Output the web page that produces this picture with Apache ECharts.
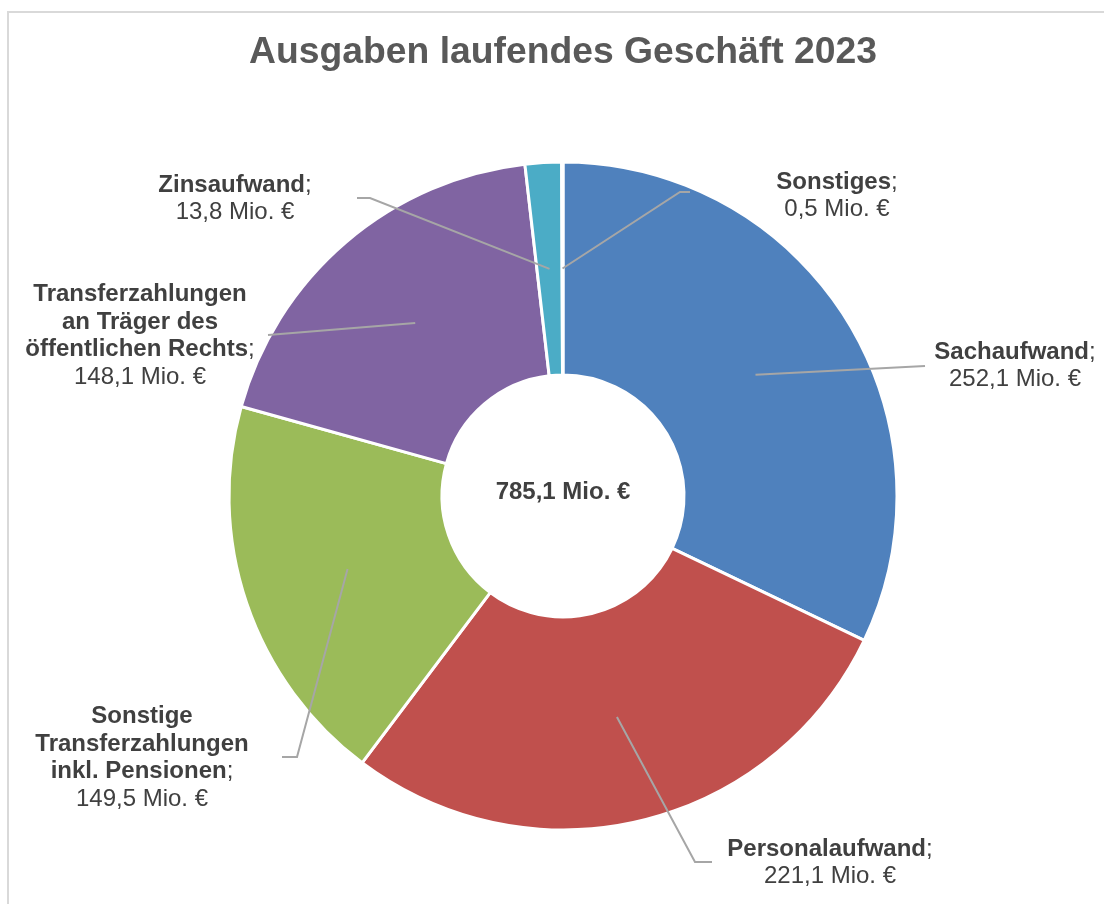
<!DOCTYPE html>
<html>
<head>
<meta charset="utf-8">
<script src="https://cdn.jsdelivr.net/npm/echarts@6/dist/echarts.min.js"></script>
<style>
  html, body { margin: 0; padding: 0; background: #ffffff; }
  #chart { width: 1104px; height: 904px; }
</style>
</head>
<body>
<div id="chart"></div>
<script>
// Ausgaben laufendes Geschäft 2023 (Mio. €)
const categories = [
  ['Sachaufwand'],
  ['Personalaufwand'],
  ['Sonstige', 'Transferzahlungen', 'inkl. Pensionen'],
  ['Transferzahlungen', 'an Träger des', 'öffentlichen Rechts'],
  ['Zinsaufwand'],
  ['Sonstiges']
];
const values = [252.1, 221.1, 149.5, 148.1, 13.8, 0.5];
const unit = 'Mio. €';
const titleText = 'Ausgaben laufendes Geschäft 2023';

const colors = ['#4F81BD', '#C0504D', '#9BBB59', '#8064A2', '#4BACC6', '#F79646'];
const FONT = 'Liberation Sans, Arial, sans-serif';
const TEXT_COLOR = '#404040';

// Ring geometry
const CX = 563, CY = 496, R_IN = 121, R_OUT = 334;
const R_MID = (R_IN + R_OUT) / 2;

// Where each label block sits and how its leader line bends
const labelSpots = [
  { x: 1015, y: 366, bend: [925, 366], end: [925, 366] },
  { x: 830,  y: 863, bend: [695, 862], end: [712, 862] },
  { x: 142,  y: 758, bend: [297, 757], end: [282, 757] },
  { x: 140,  y: 336, bend: [268, 335], end: [268, 335] },
  { x: 235,  y: 199, bend: [370, 198], end: [357, 198] },
  { x: 837,  y: 196, bend: [680, 192], end: [690, 192] }
];

const fmt = v => v.toFixed(1).replace('.', ',');
const total = values.reduce((a, b) => a + b, 0);

// Mid-angle of each slice (clockwise from 12 o'clock) -> anchor inside the ring
const anchors = [];
let acc = 0;
values.forEach(v => {
  const mid = (acc + v / 2) / total * Math.PI * 2;
  anchors.push([CX + R_MID * Math.sin(mid), CY - R_MID * Math.cos(mid)]);
  acc += v;
});

const data = values.map((v, i) => {
  const lines = categories[i];
  const nameRich = lines.map((l, k) => '{b|' + l + '}' + (k === lines.length - 1 ? '{n|;}' : '')).join('\n');
  return {
    name: lines.join(' '),
    value: v,
    itemStyle: { color: colors[i] },
    label: { formatter: nameRich + '\n{n|' + fmt(v) + ' ' + unit + '}' }
  };
});

// Leader lines run on top of the ring, from the middle of each slice to its label
const leaders = anchors.map((a, i) => ({
  type: 'polyline',
  z: 100,
  silent: true,
  shape: { points: [a, labelSpots[i].bend, labelSpots[i].end] },
  style: { fill: 'none', stroke: '#a6a6a6', lineWidth: 2 }
}));

const chart = echarts.init(document.getElementById('chart'), null, { renderer: 'canvas' });
chart.setOption({
  backgroundColor: '#ffffff',
  animation: false,
  graphic: [
    {
      type: 'rect',
      shape: { x: 8, y: 12, width: 1200, height: 1000 },
      style: { fill: 'none', stroke: '#d9d9d9', lineWidth: 2 },
      silent: true
    },
    {
      type: 'text',
      x: CX, y: 53,
      z: 100,
      style: {
        text: titleText,
        fontFamily: FONT,
        fontSize: 37.3, fontWeight: 'bold', fill: '#595959',
        align: 'center', verticalAlign: 'middle'
      }
    },
    {
      type: 'text',
      x: CX, y: 492,
      z: 100,
      style: {
        text: fmt(total) + ' ' + unit,
        fontFamily: FONT,
        fontSize: 24, fontWeight: 'bold', fill: TEXT_COLOR,
        align: 'center', verticalAlign: 'middle'
      }
    }
  ].concat(leaders),
  series: [{
    type: 'pie',
    center: [CX, CY],
    radius: [R_IN, R_OUT],
    startAngle: 90,
    clockwise: true,
    avoidLabelOverlap: false,
    itemStyle: { borderColor: '#ffffff', borderWidth: 3 },
    label: {
      show: true,
      position: 'outside',
      color: TEXT_COLOR,
      fontFamily: FONT,
      fontSize: 24,
      lineHeight: 27.5,
      align: 'center',
      rich: {
        b: { fontWeight: 'bold', fontSize: 24, lineHeight: 27.5, color: TEXT_COLOR, fontFamily: FONT },
        n: { fontWeight: 'normal', fontSize: 24, lineHeight: 27.5, color: TEXT_COLOR, fontFamily: FONT }
      }
    },
    labelLine: { show: false },
    labelLayout: function (params) {
      const s = labelSpots[params.dataIndex];
      return { x: s.x, y: s.y, align: 'center', verticalAlign: 'middle' };
    },
    emphasis: { disabled: true },
    data: data
  }]
});
</script>
</body>
</html>
